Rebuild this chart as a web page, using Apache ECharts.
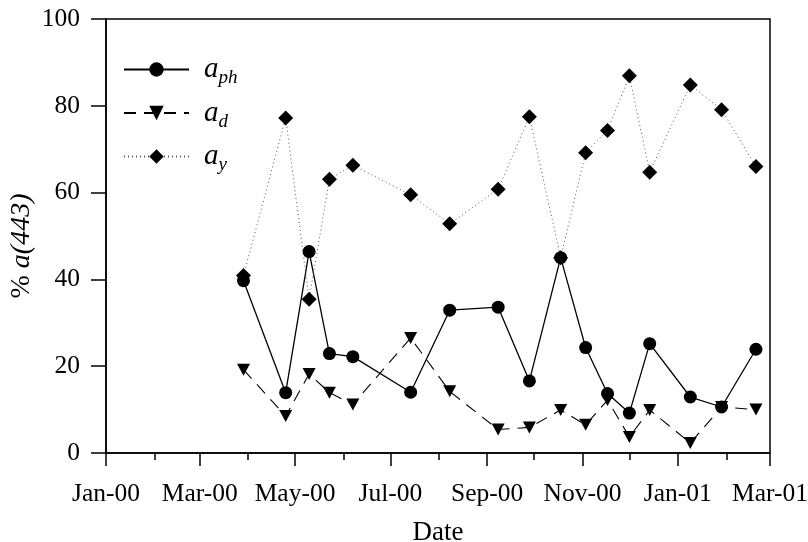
<!DOCTYPE html>
<html>
<head>
<meta charset="utf-8">
<script src="https://cdn.jsdelivr.net/npm/echarts@6/dist/echarts.min.js"></script>
<style>html,body{margin:0;padding:0;background:#fff}#c{width:808px;height:542px}</style>
</head>
<body>
<div id="c"></div>
<script>
// ---- data ----
var sampleDates = ['2000-03-29','2000-04-25','2000-05-10','2000-05-23','2000-06-07','2000-07-14','2000-08-08','2000-09-08','2000-09-28','2000-10-18','2000-11-03','2000-11-17','2000-12-01','2000-12-14','2001-01-09','2001-01-29','2001-02-20'];
var aph = [39.7, 13.9, 46.4, 22.9, 22.2, 14.0, 32.9, 33.6, 16.6, 45.0, 24.3, 13.7, 9.2, 25.2, 12.9, 10.6, 23.9];
var ad  = [19.2, 8.5, 18.2, 13.9, 11.2, 26.5, 14.2, 5.4, 5.9, 9.9, 6.5, 12.2, 3.7, 9.9, 2.3, 10.6, 10.0];
var ay  = [40.9, 77.2, 35.4, 63.1, 66.3, 59.5, 52.8, 60.8, 77.5, 45.0, 69.2, 74.3, 86.9, 64.7, 84.8, 79.1, 66.0];
var minorTickDates = ['2000-01-01','2000-02-01','2000-03-01','2000-04-01','2000-05-01','2000-06-01','2000-07-01','2000-08-01','2000-09-01','2000-10-01','2000-11-01','2000-12-01','2001-01-01','2001-02-01','2001-03-01'];
var majorTickDates = ['2000-01-01','2000-03-01','2000-05-01','2000-07-01','2000-09-01','2000-11-01','2001-01-01','2001-03-01'];
var xTickLabels = ['Jan-00','Mar-00','May-00','Jul-00','Sep-00','Nov-00','Jan-01','Mar-01'];
var yTicks = [0, 20, 40, 60, 80, 100];

// day number since 2000-01-01 (UTC, no timezone effects)
function t(s){ var p = s.split('-').map(Number); return (Date.UTC(p[0], p[1]-1, p[2]) - Date.UTC(2000,0,1)) / 86400000; }
function pairs(vals){ return sampleDates.map(function(d,i){ return [t(d), vals[i]]; }); }
var majorVals = majorTickDates.map(t);
var minorVals = minorTickDates.map(t);
var xMin = minorVals[0], xMax = minorVals[minorVals.length-1];

var serif = 'Liberation Serif';
var chart = echarts.init(document.getElementById('c'), null, {renderer:'canvas'});
var option = {
  animation: false,
  backgroundColor: '#fff',
  grid: { left: 106, right: 38, top: 19, bottom: 89, containLabel: false, outerBoundsMode: 'none',
          show: true, borderColor: '#000', borderWidth: 1.5, backgroundColor: 'transparent' },
  legend: {
    orient: 'vertical', left: 118, top: 50, itemWidth: 65, itemHeight: 18, itemGap: 11,
    data: ['aph','ad','ay'],
    formatter: function(n){ return '{a|a}{s|' + n.slice(1) + '}'; },
    textStyle: {
      fontFamily: serif, color: '#000',
      rich: {
        a: { fontFamily: serif, fontStyle: 'italic', fontSize: 29, color: '#000', padding: [0,0,0,10] },
        s: { fontFamily: serif, fontStyle: 'italic', fontSize: 19, color: '#000', padding: [17,0,0,0] }
      }
    }
  },
  xAxis: [
    {
      type: 'value', min: xMin, max: xMax, position: 'bottom',
      axisLine: { show: true, lineStyle: { color: '#000', width: 1.5 } },
      axisTick: { show: true, inside: false, length: 7, lineStyle: { color: '#000', width: 1.5 }, customValues: minorVals },
      axisLabel: { show: false },
      splitLine: { show: false }
    },
    {
      type: 'value', min: xMin, max: xMax, position: 'bottom',
      name: 'Date', nameLocation: 'middle', nameGap: 66,
      nameTextStyle: { fontFamily: serif, fontSize: 27, color: '#000' },
      axisLine: { show: false },
      axisTick: { show: true, inside: false, length: 13, lineStyle: { color: '#000', width: 1.5 }, customValues: majorVals },
      axisLabel: {
        show: true, margin: 28, fontFamily: serif, fontSize: 25.5, color: '#000', customValues: majorVals,
        formatter: function(v){ var i = majorVals.indexOf(v); return i >= 0 ? xTickLabels[i] : ''; }
      },
      splitLine: { show: false }
    }
  ],
  yAxis: {
    type: 'value', min: yTicks[0], max: yTicks[yTicks.length-1], interval: 20,
    name: '{n|% }{i|a(443)}', nameLocation: 'middle', nameGap: 70, nameRotate: 90, nameMoveOverlap: false,
    nameTextStyle: { rich: {
      n: { fontFamily: serif, fontSize: 28, color: '#000' },
      i: { fontFamily: serif, fontSize: 28, fontStyle: 'italic', color: '#000', padding: [0, 20, 0, 0] }
    } },
    axisLine: { show: true, lineStyle: { color: '#000', width: 1.5 } },
    axisTick: { show: true, inside: false, length: 15, lineStyle: { color: '#000', width: 1.5 } },
    axisLabel: { margin: 26, fontFamily: serif, fontSize: 25.5, color: '#000' },
    splitLine: { show: false }
  },
  series: [
    { name: 'aph', type: 'line', xAxisIndex: 0, data: pairs(aph), symbol: 'circle', symbolSize: 13,
      itemStyle: { color: '#000' }, lineStyle: { color: '#000', width: 1.3, type: 'solid' } },
    { name: 'ad', type: 'line', xAxisIndex: 0, data: pairs(ad), symbol: 'path://M0,0 L10,0 L5,9 Z', symbolSize: [13, 12],
      itemStyle: { color: '#000' }, lineStyle: { color: '#000', width: 1.1, type: [12, 8] } },
    { name: 'ay', type: 'line', xAxisIndex: 0, data: pairs(ay), symbol: 'diamond', symbolSize: 15,
      itemStyle: { color: '#000' }, lineStyle: { color: '#555', width: 1, type: [1, 3] } }
  ]
};
chart.setOption(option);
</script>
</body>
</html>
